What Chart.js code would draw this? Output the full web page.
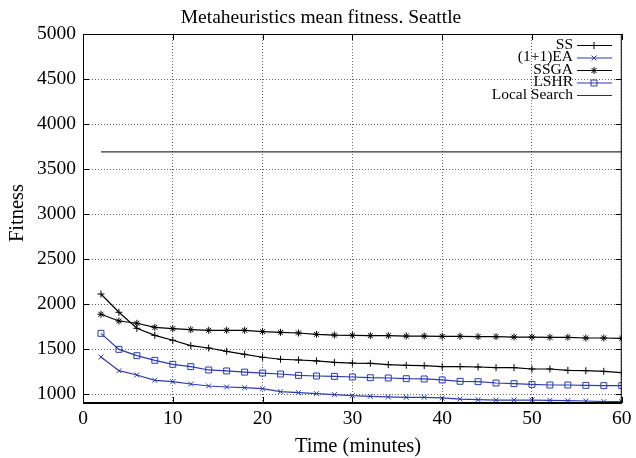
<!DOCTYPE html>
<html>
<head>
<meta charset="utf-8">
<script src="https://cdn.jsdelivr.net/npm/chart.js@4.4.0/dist/chart.umd.min.js"></script>
<style>
    html, body { margin: 0; padding: 0; background: #fff; }
    #wrap { width: 636px; height: 458px; }
</style>
</head>
<body>
<div id="wrap"><canvas id="fitnesschart" width="636" height="458"></canvas></div>
<script>
    const minutes = [2, 4, 6, 8, 10, 12, 14, 16, 18, 20, 22, 24, 26, 28, 30, 32, 34, 36, 38, 40, 42, 44, 46, 48, 50, 52, 54, 56, 58, 60];
    const ss = [2111, 1908, 1730, 1652, 1597, 1537, 1511, 1474, 1441, 1408, 1386, 1378, 1367, 1352, 1344, 1341, 1326, 1319, 1315, 1304, 1304, 1300, 1293, 1293, 1278, 1278, 1263, 1259, 1252, 1238];
    const ea = [1411, 1259, 1211, 1152, 1137, 1111, 1089, 1078, 1070, 1059, 1026, 1015, 1004, 993, 981, 974, 967, 963, 963, 956, 944, 937, 933, 933, 933, 930, 926, 922, 915, 915];
    const ssga = [1886, 1811, 1786, 1741, 1726, 1715, 1708, 1708, 1708, 1693, 1685, 1678, 1663, 1655, 1652, 1648, 1648, 1644, 1644, 1641, 1641, 1637, 1637, 1633, 1633, 1630, 1630, 1622, 1622, 1619];
    const lshr = [1674, 1496, 1426, 1374, 1330, 1304, 1267, 1256, 1243, 1233, 1222, 1207, 1200, 1196, 1189, 1181, 1178, 1170, 1167, 1156, 1141, 1137, 1122, 1115, 1107, 1100, 1100, 1096, 1093, 1093];
    const localSearch = [3690, 3690, 3690, 3690, 3690, 3690, 3690, 3690, 3690, 3690, 3690, 3690, 3690, 3690, 3690, 3690, 3690, 3690, 3690, 3690, 3690, 3690, 3690, 3690, 3690, 3690, 3690, 3690, 3690, 3690];
    const yTicks = [1000, 1500, 2000, 2500, 3000, 3500, 4000, 4500, 5000];
    const xTicks = [0, 10, 20, 30, 40, 50, 60];

    const chartTitle = 'Metaheuristics mean fitness. Seattle';
    const xTitle = 'Time (minutes)';
    const yTitle = 'Fitness';

    const serif = "'Liberation Serif', 'Times New Roman', serif";
    const blue = '#2c3cb0';

    const toPts = (vals) => vals.map((v, i) => ({ x: minutes[i], y: v }));

    const series = [
        { label: 'SS', data: ss, color: '#000', style: 'cross', r: 3.5 },
        { label: '(1+1)EA', data: ea, color: blue, style: 'crossRot', r: 3.5 },
        { label: 'SSGA', data: ssga, color: '#000', style: 'star', r: 3.5 },
        { label: 'LSHR', data: lshr, color: blue, style: 'rect', r: 4.2 },
        { label: 'Local Search', data: localSearch, color: '#333', style: false, r: 0 }
    ];

    const gnuplotFrame = {
        id: 'gnuplotFrame',
        afterDraw: (chart) => {
            const { ctx, chartArea: { left, right, top, bottom }, scales: { x, y } } = chart;
            ctx.save();
            ctx.strokeStyle = '#000';
            ctx.lineWidth = 1;
            ctx.strokeRect(left + 0.5, top + 0.5, right - left - 1, bottom - top);
            ctx.lineWidth = 2;
            ctx.beginPath();
            ctx.moveTo(left, bottom);
            ctx.lineTo(right, bottom);
            ctx.stroke();

            // inward tick marks, mirrored on top/right
            ctx.lineWidth = 1;
            ctx.beginPath();
            xTicks.forEach(v => {
                const px = Math.round(x.getPixelForValue(v)) + 0.5;
                ctx.moveTo(px, bottom); ctx.lineTo(px, bottom - 6);
                ctx.moveTo(px, top); ctx.lineTo(px, top + 6);
            });
            yTicks.forEach(v => {
                const py = Math.round(y.getPixelForValue(v)) + 0.5;
                ctx.moveTo(left, py); ctx.lineTo(left + 6, py);
                ctx.moveTo(right, py); ctx.lineTo(right - 6, py);
            });
            ctx.stroke();

            // titles
            ctx.fillStyle = '#000';
            ctx.textAlign = 'center';
            ctx.textBaseline = 'alphabetic';
            ctx.font = '19.5px ' + serif;
            ctx.fillText(chartTitle, 321, 23);
            ctx.font = '20.5px ' + serif;
            ctx.fillText(xTitle, 358, 452);
            ctx.save();
            ctx.translate(23, 213);
            ctx.rotate(-Math.PI / 2);
            ctx.fillText(yTitle, 0, 0);
            ctx.restore();

            // legend, gnuplot style: text right aligned, sample to the right
            ctx.font = '15.5px ' + serif;
            ctx.textAlign = 'right';
            ctx.textBaseline = 'middle';
            series.forEach((s, i) => {
                const ly = 45.5 + i * 12.5;
                ctx.fillStyle = '#000';
                ctx.fillText(s.label, 573, ly - 1);
                ctx.strokeStyle = s.color;
                ctx.lineWidth = 1.2;
                ctx.beginPath();
                ctx.moveTo(577, ly);
                ctx.lineTo(612, ly);
                ctx.stroke();
                if (s.style) {
                    ctx.fillStyle = 'rgba(0,0,0,0)';
                    ctx.lineWidth = 1;
                    Chart.helpers.drawPoint(ctx, {
                        pointStyle: s.style, radius: s.r, rotation: 0, borderWidth: 1
                    }, 594, ly);
                }
            });
            ctx.restore();
        }
    };

    new Chart(document.getElementById('fitnesschart'), {
        type: 'line',
        data: {
            datasets: series.map(s => ({
                label: s.label,
                data: toPts(s.data),
                borderColor: s.color,
                backgroundColor: 'rgba(0,0,0,0)',
                borderWidth: 1.2,
                pointStyle: s.style,
                pointRadius: s.r,
                pointBorderColor: s.color,
                pointBackgroundColor: 'rgba(0,0,0,0)',
                pointBorderWidth: 1,
                tension: 0
            }))
        },
        options: {
            responsive: false,
            animation: false,
            layout: { padding: { top: 34, left: 0, right: 10, bottom: 0 } },
            scales: {
                x: {
                    type: 'linear',
                    min: 0,
                    max: 60,
                    afterFit: (scale) => { scale.height = 55; },
                    afterBuildTicks: (scale) => { scale.ticks = xTicks.map(v => ({ value: v })); },
                    grid: { color: '#666', drawTicks: false },
                    border: { display: false, dash: [1, 2] },
                    ticks: { color: '#000', font: { family: serif, size: 19.5 }, padding: 4.5, maxRotation: 0, callback: (v) => String(v) }
                },
                y: {
                    min: 900,
                    max: 5000,
                    afterFit: (scale) => { scale.width = 83; },
                    afterBuildTicks: (scale) => { scale.ticks = yTicks.map(v => ({ value: v })); },
                    grid: { color: '#666', drawTicks: false },
                    border: { display: false, dash: [1, 2] },
                    ticks: { color: '#000', font: { family: serif, size: 19.5 }, padding: 7, callback: (v) => String(v) }
                }
            },
            plugins: {
                legend: { display: false },
                tooltip: { enabled: false },
                title: { display: false }
            }
        },
        plugins: [gnuplotFrame]
    });
</script>
</body>
</html>
